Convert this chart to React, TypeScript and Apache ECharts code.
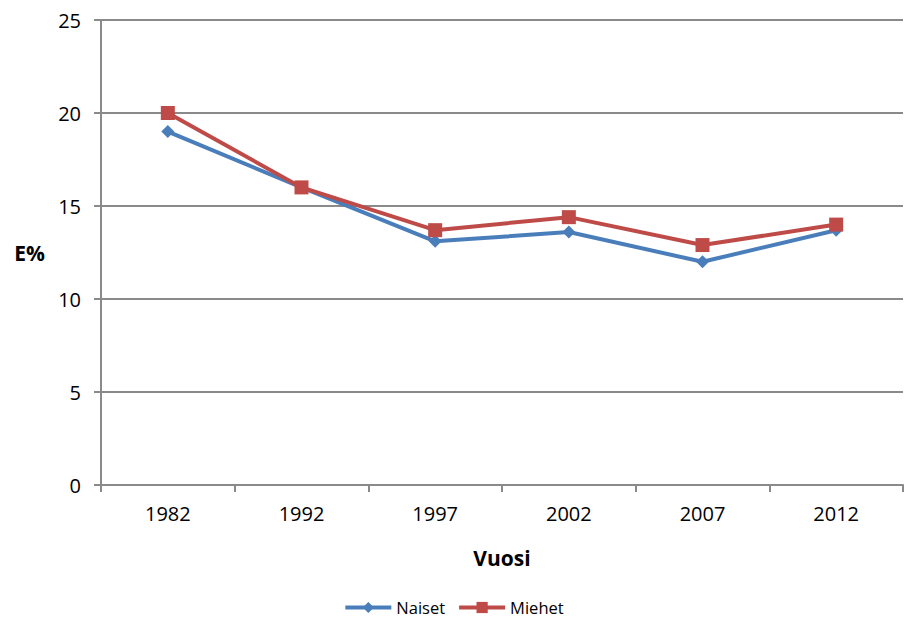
import React, { useEffect, useRef } from "react";
import * as echarts from "echarts";

const years = ["1982", "1992", "1997", "2002", "2007", "2012"];
const naiset = [19.0, 16.0, 13.1, 13.6, 12.0, 13.7];
const miehet = [20.0, 16.0, 13.7, 14.4, 12.9, 14.0];

const FONT = "'Open Sans', 'Liberation Sans', sans-serif";
const GRAY = "#8a8a8a";

export default function App() {
  const ref = useRef<HTMLDivElement>(null);
  useEffect(() => {
    if (!ref.current) return;
    const chart = echarts.init(ref.current, null, { renderer: "svg" });
    chart.setOption({
      animation: false,
      backgroundColor: "#ffffff",
      textStyle: { fontFamily: FONT },
      grid: { left: 101, right: 4, top: 20, bottom: 138, containLabel: false, outerBoundsMode: "none" },
      legend: {
        bottom: 2,
        left: "center",
        itemWidth: 46,
        itemHeight: 14,
        itemGap: 12,
        lineStyle: { width: 4 },
        textStyle: { fontFamily: FONT, fontSize: 16.5, color: "#000" },
        data: ["Naiset", "Miehet"],
      },
      xAxis: {
        type: "category",
        data: years,
        boundaryGap: true,
        name: "Vuosi",
        nameLocation: "middle",
        nameGap: 62,
        nameTextStyle: { fontFamily: FONT, fontSize: 21, fontWeight: "bold", color: "#000" },
        axisLine: { lineStyle: { color: GRAY, width: 2 } },
        axisTick: { show: true, length: 7, lineStyle: { color: GRAY, width: 2 } },
        axisLabel: { fontFamily: FONT, fontSize: 20, color: "#000", margin: 18 },
      },
      yAxis: {
        type: "value",
        min: 0,
        max: 25,
        interval: 5,
        name: "E%",
        nameLocation: "middle",
        nameRotate: 0,
        nameGap: 56,
        nameTextStyle: { fontFamily: FONT, fontSize: 21, fontWeight: "bold", color: "#000" },
        axisLine: { show: true, lineStyle: { color: GRAY, width: 2 } },
        axisTick: { show: true, length: 7, lineStyle: { color: GRAY, width: 2 } },
        axisLabel: { fontFamily: FONT, fontSize: 20, color: "#000", margin: 20 },
        splitLine: { show: true, lineStyle: { color: GRAY, width: 2 } },
      },
      series: [
        {
          name: "Naiset",
          type: "line",
          data: naiset,
          color: "#4a7ebb",
          symbol: "diamond",
          symbolSize: 13,
          lineStyle: { width: 4, color: "#4a7ebb" },
          itemStyle: { color: "#4a7ebb" },
        },
        {
          name: "Miehet",
          type: "line",
          data: miehet,
          color: "#be4b48",
          symbol: "rect",
          symbolSize: 14,
          lineStyle: { width: 4, color: "#be4b48" },
          itemStyle: { color: "#be4b48" },
        },
      ],
    });
    return () => chart.dispose();
  }, []);
  return (
    <div
      ref={ref}
      style={{ position: "fixed", left: 0, top: 0, width: 907, height: 623 }}
    />
  );
}
